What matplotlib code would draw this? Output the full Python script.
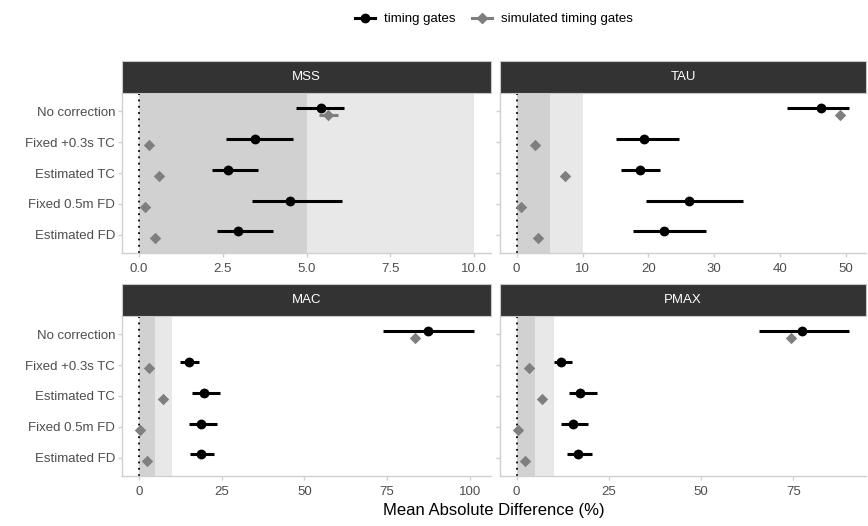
#!/usr/bin/env python3
"""Mean absolute difference per correction method, faceted by parameter."""

import matplotlib

matplotlib.use('Agg')

import matplotlib.pyplot as plt
from matplotlib.lines import Line2D

plt.rcParams['font.family'] = ['Liberation Sans', 'DejaVu Sans']

METODOS = ['No correction', 'Fixed +0.3s TC', 'Estimated TC', 'Fixed 0.5m FD', 'Estimated FD']
PANELES = ['MSS', 'TAU', 'MAC', 'PMAX']

# timing gates: media, limite inferior, limite superior
tg_mss = [5.44, 3.45, 2.67, 4.52, 2.97]
tg_mss_lo = [4.68, 2.60, 2.18, 3.39, 2.33]
tg_mss_hi = [6.11, 4.60, 3.54, 6.05, 3.99]
tg_tau = [46.2, 19.3, 18.7, 26.2, 22.4]
tg_tau_lo = [41.1, 15.1, 15.9, 19.6, 17.6]
tg_tau_hi = [50.5, 24.6, 21.8, 34.4, 28.7]
tg_mac = [87.2, 15.1, 19.6, 18.8, 18.9]
tg_mac_lo = [73.9, 12.3, 16.2, 15.1, 15.4]
tg_mac_hi = [101.3, 18.3, 24.5, 23.5, 22.7]
tg_pmax = [77.4, 12.1, 17.1, 15.2, 16.6]
tg_pmax_lo = [65.8, 10.1, 14.1, 12.1, 13.6]
tg_pmax_hi = [90.2, 14.9, 21.7, 19.4, 20.3]

# simulated timing gates
sim_mss = [5.65, 0.31, 0.61, 0.19, 0.49]
sim_mss_lo = [5.36, 0.25, 0.55, 0.15, 0.43]
sim_mss_hi = [5.95, 0.37, 0.67, 0.23, 0.55]
sim_tau = [49.1, 2.85, 7.4, 0.65, 3.25]
sim_tau_lo = [48.6, 2.5, 6.9, 0.4, 2.7]
sim_tau_hi = [49.6, 3.2, 7.9, 0.9, 3.8]
sim_mac = [83.5, 3.0, 7.2, 0.4, 2.6]
sim_mac_lo = [83.0, 2.7, 6.9, 0.2, 2.3]
sim_mac_hi = [84.0, 3.3, 7.5, 0.6, 2.9]
sim_pmax = [74.4, 3.3, 6.9, 0.45, 2.3]
sim_pmax_lo = [74.0, 3.0, 6.6, 0.25, 2.0]
sim_pmax_hi = [74.8, 3.6, 7.2, 0.65, 2.6]

BANDA_OSCURA = (0, 5)
BANDA_CLARA = (5, 10)

TICKS = {
    'MSS': [0.0, 2.5, 5.0, 7.5, 10.0],
    'TAU': [0, 10, 20, 30, 40, 50],
    'MAC': [0, 25, 50, 75, 100],
    'PMAX': [0, 25, 50, 75],
}
FMT = {'MSS': '{:.1f}', 'TAU': '{:.0f}', 'MAC': '{:.0f}', 'PMAX': '{:.0f}'}

DATOS = {
    'MSS': (tg_mss, tg_mss_lo, tg_mss_hi, sim_mss, sim_mss_lo, sim_mss_hi),
    'TAU': (tg_tau, tg_tau_lo, tg_tau_hi, sim_tau, sim_tau_lo, sim_tau_hi),
    'MAC': (tg_mac, tg_mac_lo, tg_mac_hi, sim_mac, sim_mac_lo, sim_mac_hi),
    'PMAX': (tg_pmax, tg_pmax_lo, tg_pmax_hi, sim_pmax, sim_pmax_lo, sim_pmax_hi),
}

W, H = 868, 526
# (izquierda, arriba, derecha, abajo) en pixeles para el area de datos
CAJAS = {
    'MSS': (122, 93, 491, 253),
    'TAU': (500, 93, 866, 253),
    'MAC': (122, 316, 491, 476),
    'PMAX': (500, 316, 866, 476),
}
ALTO_STRIP = 32

GRIS_EJE = '#d0d0d0'
GRIS_TEXTO = '#4d4d4d'
GRIS_SIM = '#7f7f7f'


def caja_fig(l, t, r, b):
    return [l / W, 1 - b / H, (r - l) / W, (b - t) / H]


def main():
    fig = plt.figure(figsize=(W / 100, H / 100), dpi=100)
    n = len(METODOS)
    ypos = list(range(n, 0, -1))
    dodge = 0.1

    for panel in PANELES:
        l, t, r, b = CAJAS[panel]
        ax = fig.add_axes(caja_fig(l, t, r, b))
        tg, tg_lo, tg_hi, sim, sim_lo, sim_hi = DATOS[panel]

        ax.axvspan(*BANDA_OSCURA, color='#d1d1d1', lw=0, zorder=0)
        ax.axvspan(*BANDA_CLARA, color='#e8e8e8', lw=0, zorder=0)
        ax.axvline(0, color='black', linestyle=(0, (1, 2.5)), lw=1.3, zorder=1)

        y_tg = [y + dodge for y in ypos]
        y_sim = [y - dodge for y in ypos]
        ax.hlines(y_sim, sim_lo, sim_hi, color=GRIS_SIM, lw=2.2, zorder=2)
        ax.scatter(sim, y_sim, marker='D', s=34, color=GRIS_SIM, lw=0, zorder=3)
        ax.hlines(y_tg, tg_lo, tg_hi, color='black', lw=2.2, zorder=4)
        ax.scatter(tg, y_tg, marker='o', s=50, color='black', lw=0, zorder=5)

        # expansion 5% como ggplot
        vmin = min(0, min(tg_lo), min(sim_lo), BANDA_OSCURA[0])
        vmax = max(max(tg_hi), max(sim_hi), BANDA_CLARA[1])
        pad = (vmax - vmin) * 0.05
        ax.set_xlim(vmin - pad, vmax + pad)
        ax.set_ylim(0.4, n + 0.6)

        ax.set_xticks(TICKS[panel])
        ax.set_xticklabels([FMT[panel].format(v) for v in TICKS[panel]])
        ax.set_yticks(ypos)
        if panel in ('MSS', 'MAC'):
            ax.set_yticklabels(METODOS)
        else:
            ax.set_yticklabels([])

        for lado in ('top', 'right'):
            ax.spines[lado].set_visible(False)
        for lado in ('left', 'bottom'):
            ax.spines[lado].set_color(GRIS_EJE)
            ax.spines[lado].set_linewidth(1.0)
        ax.tick_params(axis='both', colors=GRIS_EJE, labelcolor=GRIS_TEXTO,
                       labelsize=9.5, length=3, width=1.0, pad=2)
        ax.tick_params(axis='x', pad=4)
        ax.set_facecolor('white')

        # strip del facet
        sax = fig.add_axes(caja_fig(l, t - ALTO_STRIP, r, t))
        sax.set_facecolor('#333333')
        sax.set_xticks([])
        sax.set_yticks([])
        for sp in sax.spines.values():
            sp.set_color('#c8c8c8')
            sp.set_linewidth(0.8)
        sax.text(0.5, 0.5, panel, color='white', fontsize=9.5,
                 ha='center', va='center', transform=sax.transAxes)

    fig.text(494 / W, 1 - 510 / H, 'Mean Absolute Difference (%)',
             ha='center', va='center', fontsize=12, color='black')

    handles = [
        Line2D([], [], color='black', lw=2.2, marker='o', markersize=6),
        Line2D([], [], color=GRIS_SIM, lw=2.2, marker='D', markersize=5),
    ]
    fig.legend(handles, ['timing gates', 'simulated timing gates'],
               loc='center', bbox_to_anchor=(494 / W, 1 - 19 / H), ncol=2,
               frameon=False, fontsize=9.5, handlelength=1.5,
               handletextpad=0.7, columnspacing=1.3)

    fig.savefig('out.png', dpi=100)


if __name__ == '__main__':
    main()
